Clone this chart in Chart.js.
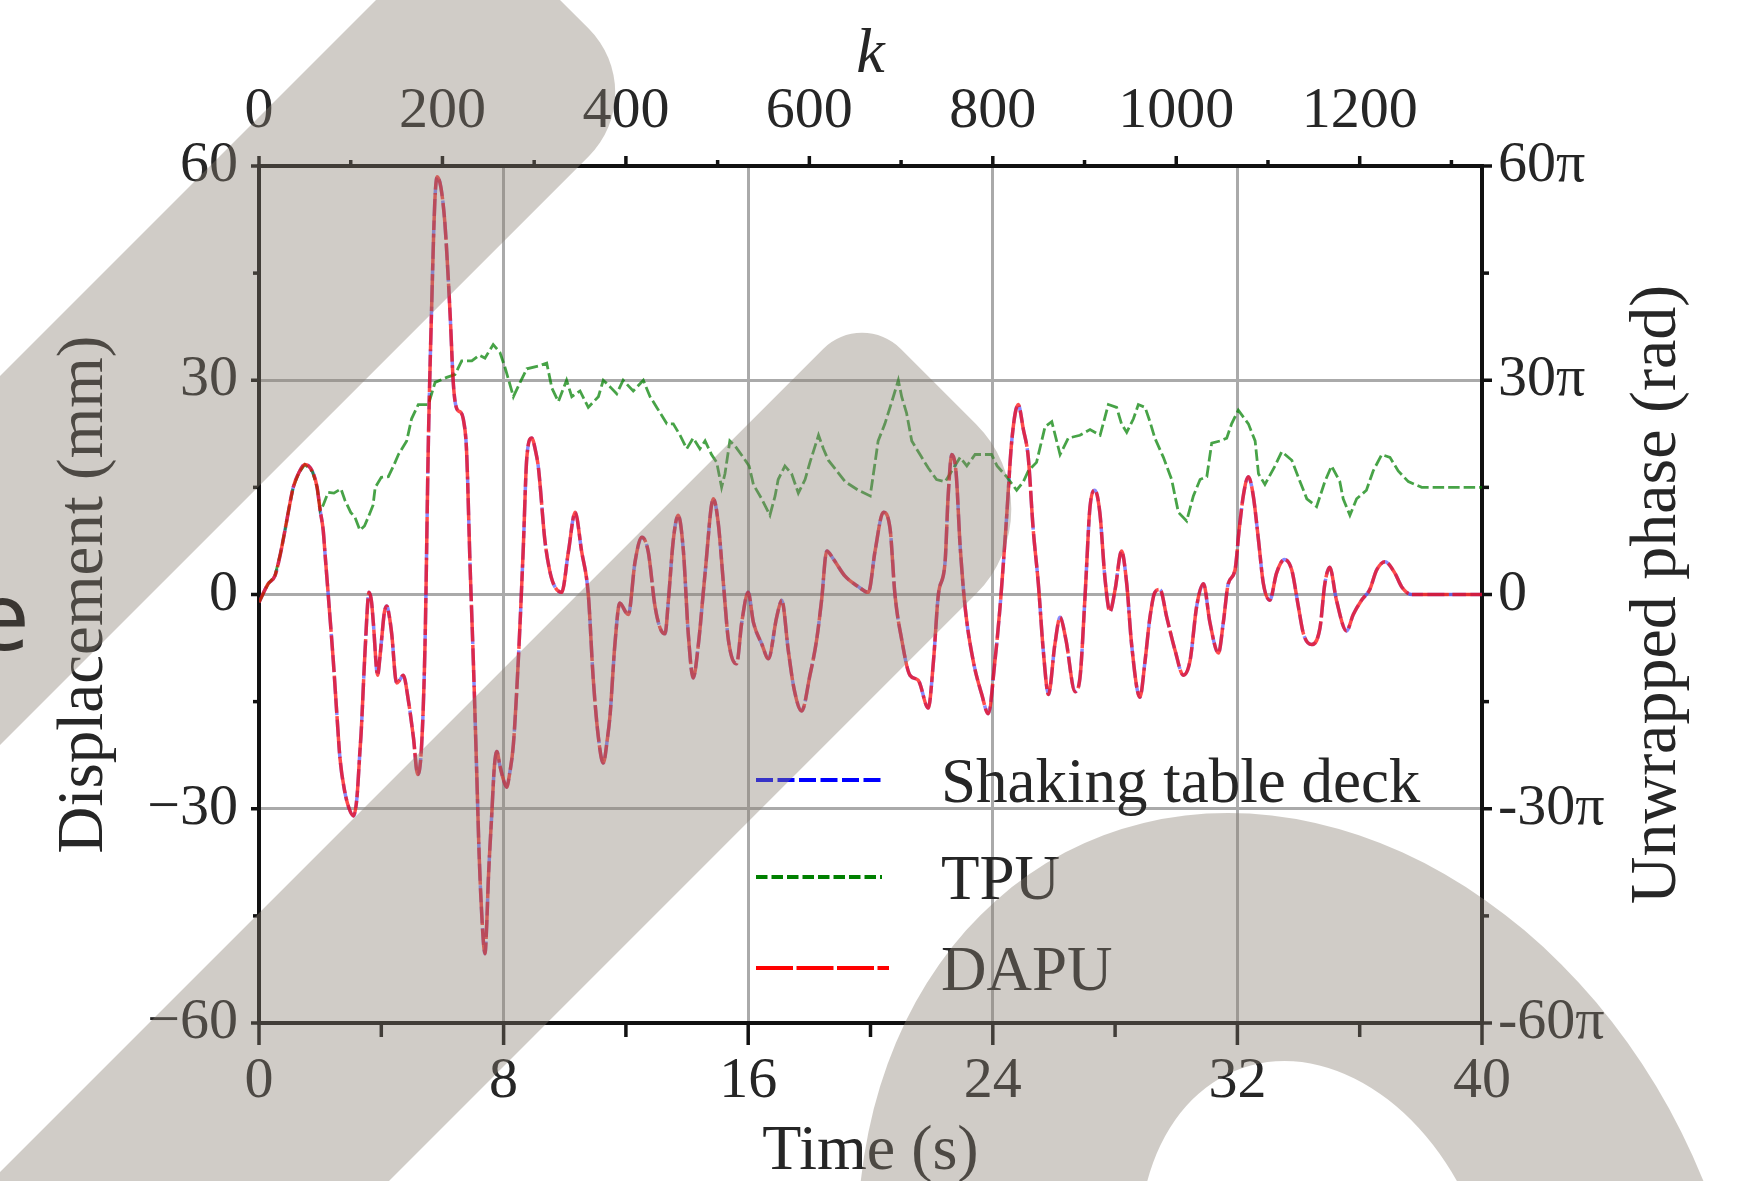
<!DOCTYPE html>
<html>
<head>
<meta charset="utf-8">
<title>Displacement and unwrapped phase</title>
<script src="https://cdn.jsdelivr.net/npm/chart.js@4.4.1/dist/chart.umd.min.js"></script>
<style>
    html, body { margin: 0; padding: 0; background: #fff; }
    #wrap { position: relative; width: 1742px; height: 1181px; overflow: hidden; }
    #wrap canvas { position: absolute; left: 0; top: 0; }
    #mark { pointer-events: none; }
</style>
</head>
<body>
<div id="wrap">
    <canvas id="chart" width="1742" height="1181"></canvas>
    <canvas id="mark" width="1742" height="1181"></canvas>
</div>
<script>
/* ============================================
   Shaking table test — displacement vs. phase
   ============================================ */

// Displacement (mm) of the shaking table deck
const deckTime = [
    0, 0.3, 0.52, 0.7, 0.85, 1.0, 1.12, 1.3, 1.5, 1.75, 1.9, 2.0, 2.1, 2.16, 2.22, 2.3, 2.43, 2.55, 2.65, 2.8,
    2.95, 3.09, 3.2, 3.3, 3.34, 3.47, 3.6, 3.68, 3.74, 3.88, 3.95, 4.01, 4.1, 4.18, 4.26, 4.34, 4.5, 4.6, 4.72, 4.88,
    5.05, 5.19, 5.32, 5.43, 5.54, 5.65, 5.75, 5.83, 5.95, 6.08, 6.18, 6.25, 6.36, 6.47, 6.6, 6.68, 6.79, 6.9, 7.01, 7.12,
    7.2, 7.3, 7.39, 7.45, 7.5, 7.61, 7.7, 7.78, 7.88, 8.0, 8.1, 8.2, 8.32, 8.48, 8.64, 8.76, 8.92, 9.05, 9.14, 9.35,
    9.5, 9.63, 9.9, 10.12, 10.34, 10.55, 10.77, 10.93, 11.1, 11.26, 11.4, 11.48, 11.64, 11.8, 12.0, 12.08, 12.3, 12.52, 12.73, 12.95,
    13.12, 13.28, 13.39, 13.55, 13.71, 13.88, 14.04, 14.2, 14.37, 14.59, 14.86, 15.02, 15.19, 15.35, 15.62, 15.79, 16.0, 16.17, 16.45, 16.66,
    16.93, 17.1, 17.31, 17.5, 17.75, 18.02, 18.24, 18.4, 18.57, 18.78, 19.16, 19.6, 19.93, 20.15, 20.42, 20.64, 20.8, 21.02, 21.29, 21.56,
    21.89, 22.06, 22.22, 22.44, 22.54, 22.66, 22.8, 22.93, 23.09, 23.36, 23.64, 23.85, 24.07, 24.24, 24.45, 24.62, 24.83, 25.0, 25.16, 25.32,
    25.49, 25.65, 25.82, 26.03, 26.2, 26.39, 26.69, 26.85, 27.02, 27.18, 27.34, 27.5, 27.67, 27.83, 28.0, 28.21, 28.38, 28.54, 28.81, 28.98,
    29.14, 29.3, 29.47, 29.69, 29.96, 30.23, 30.45, 30.67, 30.89, 31.1, 31.38, 31.54, 31.7, 31.92, 32.06, 32.2, 32.36, 32.52, 32.69, 32.85,
    33.06, 33.28, 33.54, 33.78, 33.99, 34.16, 34.43, 34.7, 34.86, 35.02, 35.24, 35.57, 35.79, 36.06, 36.33, 36.55, 36.83, 37.15, 37.37, 37.7,
    38.5, 40
];
const deckDisp = [
    -1.1, 1.5, 2.6, 5.7, 9, 12.5, 15, 17, 18.2, 17.2, 15, 11.8, 9, 5.7, 2.4, -2, -9.3, -17, -23, -27.5,
    -30, -31, -28.6, -22, -19.4, -7.8, 0.3, -1, -4, -11.3, -9, -6.3, -2.5, -1.6, -3, -5.5, -12.4, -12, -11.3, -14.7,
    -20, -25.2, -21, -7, 21.5, 40.8, 55, 58.5, 57, 52, 45, 39.3, 29.3, 26, 25.5, 24.6, 20, 4.5, -9.3, -24.8,
    -36.4, -46, -50.3, -46, -40, -31, -24, -22, -24, -26, -27, -25, -21, -9.3, 6.1, 19.2, 21.9, 20, 17.7, 7.6,
    3.5, 1.5, 0.3, 6, 11.5, 6.1, 0, -11.7, -20, -23.6, -20, -17, -7, -1.2, -2.5, -2.8, 4.6, 8, 6, -1.6,
    -4.7, -5.5, -0.8, 7.6, 11.1, 6.1, -5.5, -11.7, -7, 3, 13.4, 10, 1.5, -6.3, -9.7, -3.9, 0.3, -3.9, -7, -9,
    -3.2, -0.8, -7.8, -13.2, -16.3, -11.3, -6.3, -0.8, 6.1, 5, 2.6, 1.1, 0.3, 6.1, 11.5, 9.2, 0, -6.3, -11.3, -12,
    -15.9, -9.3, 0, 4.6, 13.8, 19.6, 17, 6.9, -1.6, -9.3, -14, -16.7, -9.3, -1.6, 10.7, 21.5, 26.6, 23.1, 19.2, 9.2,
    1.5, -7.8, -14, -7, -3.2, -6.3, -13.6, -11.7, 0, 12.3, 14.6, 11.5, 2.2, -2.4, 0.7, 6.1, 1.5, -7, -14.4, -9.3,
    -3.2, 0.3, 0.7, -3.2, -7.8, -11.3, -9.3, -1.6, 1.5, -3.9, -8.2, -3.9, 1.5, 3.4, 9.2, 14, 16.5, 13.8, 7.6, 1.5,
    -0.8, 3, 4.9, 3.4, -1.6, -5.5, -7, -4.7, 1.5, 3.8, -0.8, -5.1, -2.8, -0.8, 0.7, 3.4, 4.6, 3, 1.1, 0,
    0, 0
];
// DAPU displacement lies on top of the deck trace at this resolution
const dapuTime = deckTime;
const dapuDisp = deckDisp;

// TPU unwrapped phase, in multiples of pi (right axis)
const tpuTime = [
    0, 0.3, 0.52, 0.7, 0.85, 1.0, 1.12, 1.3, 1.5, 1.75, 1.9, 2.0, 2.1, 2.26, 2.45, 2.68, 2.81, 3.0, 3.14, 3.3,
    3.45, 3.57, 3.73, 3.8, 4.0, 4.23, 4.4, 4.56, 4.83, 4.99, 5.21, 5.54, 5.76, 6.14, 6.41, 6.63, 6.96, 7.2, 7.39, 7.66,
    7.88, 8.06, 8.32, 8.54, 8.76, 9.14, 9.41, 9.58, 9.79, 10.06, 10.23, 10.5, 10.77, 11.1, 11.26, 11.5, 11.7, 11.91, 12.24, 12.57,
    12.79, 13.01, 13.34, 13.55, 13.77, 13.99, 14.2, 14.42, 14.59, 14.8, 14.97, 15.13, 15.24, 15.4, 15.57, 15.84, 16.03, 16.17, 16.44, 16.71,
    16.88, 16.98, 17.2, 17.42, 17.64, 17.86, 18.02, 18.3, 18.46, 18.62, 18.9, 19.17, 19.6, 19.99, 20.15, 20.25, 20.47, 20.69, 20.91, 21.02,
    21.18, 21.35, 21.62, 21.89, 22.16, 22.44, 22.66, 22.93, 23.15, 23.42, 23.69, 23.96, 24.14, 24.45, 24.78, 25.0, 25.16, 25.43, 25.71, 25.93,
    26.2, 26.47, 26.85, 27.18, 27.51, 27.78, 28.05, 28.21, 28.38, 28.6, 28.76, 28.98, 29.14, 29.3, 29.58, 29.85, 30.07, 30.34, 30.56, 30.78,
    31.0, 31.16, 31.43, 31.65, 31.81, 32.03, 32.36, 32.58, 32.69, 32.9, 33.23, 33.45, 33.78, 34.05, 34.27, 34.59, 34.86, 35.08, 35.35, 35.46,
    35.68, 35.9, 36.22, 36.44, 36.72, 36.99, 37.26, 37.59, 38.03, 40
];
const tpuPhase = [
    -1.1, 1.5, 2.6, 5.7, 9, 12.5, 15, 17, 18.2, 17.2, 15, 11.8, 12.5, 14.3, 14.2, 14.8, 13.2, 11.5, 10.8, 9,
    9.6, 10.8, 12.5, 15, 16.4, 16.5, 18, 19.6, 21.5, 24.6, 26.6, 26.6, 29.7, 30.4, 30.8, 32.7, 32.7, 33.5, 33.1, 35,
    33.9, 31.6, 27.7, 29.7, 31.6, 32, 32.4, 28.9, 27, 30, 27.7, 28.5, 26.2, 27.7, 30, 29, 28.1, 30, 28.5, 30,
    27.7, 26.2, 23.9, 23.9, 22.3, 20.4, 21.9, 20.4, 21.5, 19.6, 18.5, 15, 16.9, 21.5, 20.8, 19.2, 18, 15.4, 13.4, 11.1,
    13.8, 16.1, 18, 16.9, 14.2, 16.1, 18.5, 22.3, 20.4, 18.8, 17.3, 15.8, 14.6, 13.8, 18.5, 21.5, 23.9, 26.9, 30, 27.7,
    25.4, 21.5, 19.6, 17.7, 16.1, 15.8, 17.3, 19.2, 18, 19.6, 19.6, 19.6, 18, 16.5, 14.6, 15.8, 17.3, 18.5, 23.5, 24.2,
    19.6, 21.9, 22.3, 23.1, 22.3, 26.6, 26.2, 23.9, 22.7, 24.6, 26.6, 26.2, 24.2, 21.9, 19.2, 16.1, 11.5, 10.3, 13.8, 16.1,
    16.5, 21.2, 21.5, 21.9, 23.9, 25.8, 23.9, 21.5, 16.9, 15.4, 18, 20, 18.8, 15.8, 13.4, 12.3, 15.8, 18, 15.8, 13.4,
    11.1, 13.4, 14.6, 17.3, 19.6, 19.2, 17.3, 15.8, 15, 15
];

// Axis ranges and tick labels
const timeTicks = [0, 8, 16, 24, 32, 40];
const sampleTicks = [0, 200, 400, 600, 800, 1000, 1200];
const dispTicks = [-60, -30, 0, 30, 60];
const phaseTicks = [-60, -30, 0, 30, 60];
const samplesPerSecond = 1000 / 30;

const SERIF = '"Liberation Serif", "DejaVu Serif", serif';
const INK = '#262626';

const zip = (xs, ys) => xs.map((x, i) => ({ x, y: ys[i] }));

// Outward tick marks, major and minor, placed through each scale
const tickMarks = {
    id: 'tickMarks',
    afterDraw(chart) {
        const { ctx, chartArea: a, scales: s } = chart;
        const specs = [
            { scale: s.x, from: 0, to: 40, step: 4, major: 8, len: 22, minor: 14, edge: a.bottom, dir: 1 },
            { scale: s.xTop, from: 0, to: 1300, step: 100, major: 200, len: 10, minor: 6, edge: a.top, dir: -1 },
            { scale: s.y, from: -60, to: 60, step: 15, major: 30, len: 8, minor: 6, edge: a.left, dir: -1 },
            { scale: s.y2, from: -60, to: 60, step: 15, major: 30, len: 10, minor: 7, edge: a.right, dir: 1 },
        ];
        ctx.save();
        ctx.strokeStyle = '#111';
        ctx.lineWidth = 3.5;
        specs.forEach(t => {
            for (let v = t.from; v <= t.to + 1e-9; v += t.step) {
                const p = t.scale.getPixelForValue(v);
                const l = (Math.abs(v % t.major) < 1e-9 ? t.len : t.minor) * t.dir;
                ctx.beginPath();
                if (t.scale.isHorizontal()) { ctx.moveTo(p, t.edge); ctx.lineTo(p, t.edge + l); }
                else { ctx.moveTo(t.edge, p); ctx.lineTo(t.edge + l, p); }
                ctx.stroke();
            }
        });
        ctx.restore();
    }
};

// Legend inside the plot plus the right-hand axis title (reads bottom to top)
const legendBox = {
    id: 'legendBox',
    afterDraw(chart) {
        const { ctx, chartArea: a } = chart;
        const rows = [0, 1, 2];
        const rowY = [780, 877, 968];
        ctx.save();
        rows.forEach((i, r) => {
            const ds = chart.data.datasets[i];
            ctx.strokeStyle = ds.swatch;
            ctx.lineWidth = 4;
            ctx.setLineDash(ds.borderDash);
            ctx.beginPath();
            ctx.moveTo(756, rowY[r]);
            ctx.lineTo(i === 2 ? 889 : 882, rowY[r]);
            ctx.stroke();
            ctx.setLineDash([]);
            ctx.fillStyle = INK;
            ctx.font = `63px ${SERIF}`;
            ctx.textBaseline = 'alphabetic';
            ctx.fillText(ds.label, 941, rowY[r] + 22);
        });
        ctx.translate(a.right + 176, (a.top + a.bottom) / 2);
        ctx.rotate(-Math.PI / 2);
        ctx.textAlign = 'center';
        ctx.textBaseline = 'middle';
        ctx.font = `66px ${SERIF}`;
        ctx.fillText('Unwrapped phase (rad)', 0, 0);
        ctx.restore();
    }
};

const tickFont = { family: SERIF, size: 58 };
const titleFont = { family: SERIF, size: 64, lineHeight: 1 };
const gridCol = (lo, hi) => c => (c.tick.value === lo || c.tick.value === hi) ? 'rgba(0,0,0,0)' : '#aaaaaa';

new Chart(document.getElementById('chart'), {
    type: 'line',
    data: {
        datasets: [
            { label: 'Shaking table deck', data: zip(deckTime, deckDisp), yAxisID: 'y', order: 3,
              borderColor: 'rgba(40,40,255,0.55)', swatch: '#0000ff', borderWidth: 3.5, borderDash: [17, 4.5],
              cubicInterpolationMode: 'monotone' },
            { label: 'TPU', data: zip(tpuTime, tpuPhase), yAxisID: 'y2', order: 2,
              borderColor: 'rgba(0,128,0,0.72)', swatch: '#008000', borderWidth: 2.8, borderDash: [11.5, 4] },
            { label: 'DAPU', data: zip(dapuTime, dapuDisp), yAxisID: 'y', order: 1,
              borderColor: 'rgba(255,0,0,0.7)', swatch: '#ff0000', borderWidth: 3.5, borderDash: [37, 3.5],
              cubicInterpolationMode: 'monotone' },
        ]
    },
    options: {
        responsive: false,
        animation: false,
        layout: { padding: 0 },
        elements: { point: { radius: 0 }, line: { tension: 0 } },
        plugins: { legend: { display: false }, tooltip: { enabled: false } },
        scales: {
            x: {
                type: 'linear', position: 'bottom', min: 0, max: 40,
                afterBuildTicks: s => { s.ticks = timeTicks.map(v => ({ value: v })); },
                afterFit: s => { s.height = 158; },
                ticks: { font: tickFont, color: INK, padding: 24, maxRotation: 0, callback: v => String(v) },
                grid: { color: gridCol(0, 40), lineWidth: 3, drawTicks: false },
                border: { display: true, color: '#111', width: 4 },
                title: { display: true, text: 'Time (s)', font: { ...titleFont, lineHeight: 0.9 }, color: INK, padding: 0 },
            },
            xTop: {
                type: 'linear', position: 'top', min: 0, max: 40 * samplesPerSecond,
                afterBuildTicks: s => { s.ticks = sampleTicks.map(v => ({ value: v })); },
                afterFit: s => { s.height = 166; },
                ticks: { font: tickFont, color: INK, padding: 19, maxRotation: 0, callback: v => String(v) },
                grid: { drawOnChartArea: false, drawTicks: false },
                border: { display: true, color: '#111', width: 4 },
                title: { display: true, text: 'k', font: { ...titleFont, style: 'italic' }, color: INK, padding: { top: 23, bottom: 0 } },
            },
            y: {
                type: 'linear', position: 'left', min: -60, max: 60,
                afterBuildTicks: s => { s.ticks = dispTicks.map(v => ({ value: v })); },
                afterFit: s => { s.width = 259; },
                ticks: { font: tickFont, color: INK, padding: 21, callback: v => v < 0 ? '\u2212' + Math.abs(v) : String(v) },
                grid: { color: gridCol(-60, 60), lineWidth: 3, drawTicks: false },
                border: { display: true, color: '#111', width: 4 },
                title: { display: true, text: 'Displacement (mm)', font: { ...titleFont, size: 65 }, color: INK, padding: { top: 52, bottom: 0 } },
            },
            y2: {
                type: 'linear', position: 'right', min: -60, max: 60,
                afterBuildTicks: s => { s.ticks = phaseTicks.map(v => ({ value: v })); },
                afterFit: s => { s.width = 260; },
                ticks: { font: tickFont, color: INK, padding: 16, callback: v => v === 0 ? '0' : (v < 0 ? '-' + Math.abs(v) : v) + '\u03c0' },
                grid: { drawOnChartArea: false, drawTicks: false },
                border: { display: true, color: '#111', width: 4 },
            },
        }
    },
    plugins: [tickMarks, legendBox]
});

// Grey watermark laid over the figure
function drawWatermark() {
    const c = document.getElementById('mark').getContext('2d');
    c.fillStyle = 'rgba(137,128,116,0.4)';
    // diagonal bands: edges x+y=s1 and x+y=s2, ending on x-y=e with rounded corners
    const band = (s1, s2, e, r1, r2) => {
        c.beginPath();
        c.moveTo(-900, s1 + 900);
        c.arcTo((s1 + e) / 2, (s1 - e) / 2, (s2 + e) / 2, (s2 - e) / 2, r1);
        c.arcTo((s2 + e) / 2, (s2 - e) / 2, -900, s2 + 900, r2);
        c.lineTo(-900, s2 + 900);
        c.closePath();
        c.fill();
    };
    band(376, 745, 560, 90, 90);
    band(1172, 1570, 552, 55, 120);
    // slanted arch at lower right
    c.save();
    c.translate(1304, 1330);
    c.transform(1, 0, 0.147, 1, 0, 0);
    c.beginPath();
    c.ellipse(0, 0, 440, 517, 0, 0, Math.PI * 2);
    c.moveTo(20 + 176, -40);
    c.ellipse(20, -40, 176, 229, 0, 0, Math.PI * 2);
    c.fill('evenodd');
    c.restore();
    c.fillStyle = '#3a3632';
    c.font = '92px "DejaVu Sans", sans-serif';
    c.fillText('e', -27, 650);
}
drawWatermark();
</script>
</body>
</html>
